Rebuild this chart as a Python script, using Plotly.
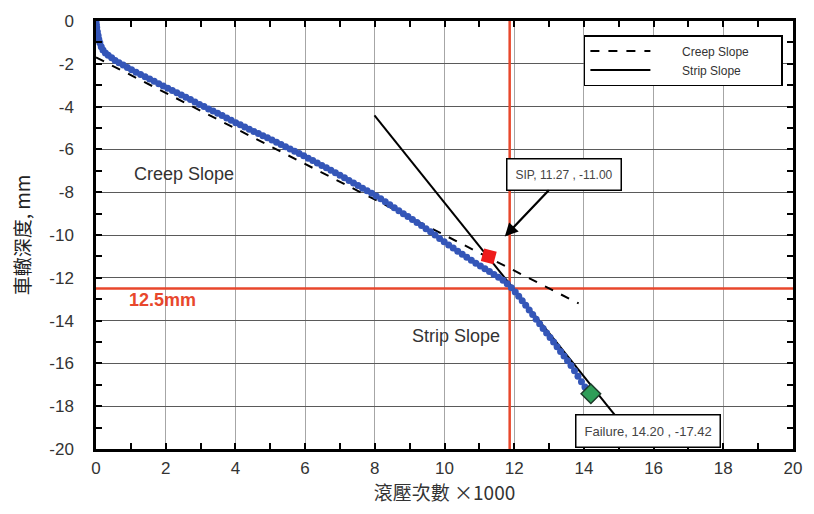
import plotly.graph_objects as go

# Measured rut depth vs. number of wheel passes (x1000)
passes = [0, 0.01, 0.02, 0.04, 0.06, 0.08, 0.11, 0.15, 0.2, 0.27, 0.35, 0.45, 0.55, 0.66, 0.78, 0.9,
          1.02, 1.15, 1.28, 1.41, 1.54, 1.67, 1.80, 1.93, 2.06, 2.19, 2.32, 2.45, 2.58, 2.71, 2.84, 2.97,
          3.10, 3.23, 3.36, 3.49, 3.62, 3.75, 3.88, 4.01, 4.14, 4.27, 4.40, 4.53, 4.66, 4.79, 4.92, 5.05,
          5.18, 5.31, 5.44, 5.57, 5.70, 5.83, 5.96, 6.09, 6.22, 6.35, 6.48, 6.61, 6.74, 6.87, 7.00, 7.13,
          7.26, 7.39, 7.52, 7.65, 7.78, 7.91, 8.04, 8.17, 8.30, 8.43, 8.56, 8.69, 8.82, 8.95, 9.08, 9.21,
          9.34, 9.47, 9.60, 9.73, 9.86, 9.99, 10.12, 10.25, 10.38, 10.51, 10.64, 10.77, 10.90, 11.03,
          11.16, 11.29, 11.42, 11.55, 11.68, 11.80, 11.92, 12.03, 12.13, 12.23, 12.33, 12.43, 12.53,
          12.63, 12.73, 12.83, 12.93, 13.03, 13.13, 13.23, 13.33, 13.43, 13.53, 13.63, 13.73, 13.83,
          13.93, 14.03, 14.13, 14.20]
rut_depth = [0, -0.15, -0.3, -0.5, -0.68, -0.85, -1.02, -1.2, -1.36, -1.5, -1.6, -1.72, -1.84, -1.95, -2.06, -2.17,
             -2.28, -2.39, -2.5, -2.6, -2.71, -2.82, -2.93, -3.04, -3.14, -3.25, -3.35, -3.46, -3.56, -3.67, -3.79, -3.9,
             -4.0, -4.11, -4.21, -4.31, -4.42, -4.53, -4.64, -4.75, -4.85, -4.95, -5.06, -5.16, -5.26, -5.36, -5.46, -5.56,
             -5.67, -5.77, -5.88, -5.98, -6.09, -6.19, -6.3, -6.41, -6.52, -6.63, -6.75, -6.86, -6.98, -7.09, -7.21, -7.33,
             -7.45, -7.57, -7.69, -7.81, -7.93, -8.05, -8.18, -8.31, -8.45, -8.59, -8.73, -8.87, -9.01, -9.14, -9.28, -9.42,
             -9.56, -9.71, -9.85, -10.0, -10.16, -10.32, -10.47, -10.61, -10.76, -10.9, -11.04, -11.18, -11.32, -11.45,
             -11.58, -11.71, -11.84, -11.98, -12.12, -12.28, -12.46, -12.66, -12.86, -13.07, -13.28, -13.5, -13.72,
             -13.94, -14.15, -14.37, -14.58, -14.79, -15.0, -15.22, -15.44, -15.66, -15.88, -16.1, -16.34, -16.6,
             -16.86, -17.1, -17.3, -17.42]

# Fitted slope lines (end points)
creep_x = [0, 13.85]
creep_y = [-1.7, -13.2]
strip_x = [7.99, 14.89]
strip_y = [-4.41, -18.42]

# Key points
sip_x, sip_y = 11.27, -11.00
fail_x, fail_y = 14.20, -17.42

# Reference lines
limit_depth = -12.5
limit_passes = 11.87

x_ticks = [0, 2, 4, 6, 8, 10, 12, 14, 16, 18, 20]
y_ticks = [0, -2, -4, -6, -8, -10, -12, -14, -16, -18, -20]

RED = "#e8472c"
FONT = "Liberation Sans, Arial, sans-serif"
CJK = "Noto Sans CJK TC, Noto Sans CJK SC, sans-serif"
PAD = "&nbsp;" * 8

fig = go.Figure()

# red limit lines
fig.add_trace(go.Scatter(x=[0, 20], y=[limit_depth, limit_depth], mode="lines",
                         line=dict(color=RED, width=2.5), showlegend=False, hoverinfo="skip"))
fig.add_trace(go.Scatter(x=[limit_passes, limit_passes], y=[0, -20], mode="lines",
                         line=dict(color=RED, width=2.5), showlegend=False, hoverinfo="skip"))

fig.add_trace(go.Scatter(x=creep_x, y=creep_y, mode="lines", name=PAD + "Creep Slope" + PAD,
                         line=dict(color="black", width=2, dash="dash")))
fig.add_trace(go.Scatter(x=strip_x, y=strip_y, mode="lines", name=PAD + "Strip Slope" + PAD,
                         line=dict(color="black", width=2)))

fig.add_trace(go.Scatter(x=passes, y=rut_depth, mode="markers", showlegend=False,
                         marker=dict(color="#3456b8", size=7, line=dict(width=0))))

fig.add_trace(go.Scatter(x=[sip_x], y=[sip_y], mode="markers", showlegend=False,
                         marker=dict(symbol="square", color="#ee1c1c", size=13, angle=15,
                                     line=dict(width=0))))
fig.add_trace(go.Scatter(x=[fail_x], y=[fail_y], mode="markers", showlegend=False,
                         marker=dict(symbol="diamond", color="#2f9e58", size=15,
                                     line=dict(color="#1d3a2a", width=1.5))))

# empty trace carrying the tick-only top and right axes
fig.add_trace(go.Scatter(x=[None], y=[None], xaxis="x2", yaxis="y2", showlegend=False,
                         hoverinfo="skip"))

annotations = [
    dict(x=1.03, y=-7.15, xref="x", yref="y", text="Creep Slope", showarrow=False,
         xanchor="left", yanchor="middle", font=dict(family=FONT, size=18, color="#333")),
    dict(x=9.0, y=-14.7, xref="x", yref="y", text="Strip Slope", showarrow=False,
         xanchor="left", yanchor="middle", font=dict(family=FONT, size=18, color="#333")),
    dict(x=0.9, y=-13.05, xref="x", yref="y", text="<b>12.5mm</b>", showarrow=False,
         xanchor="left", yanchor="middle", font=dict(family=FONT, size=18, color=RED)),
    dict(x=11.73, y=-10.07, xref="x", yref="y", text="SIP, 11.27 , -11.00",
         showarrow=True, arrowhead=2, arrowsize=1.2, arrowwidth=2.2, arrowcolor="black",
         ax=59, ay=-62, bgcolor="white", bordercolor="black", borderwidth=1.5, borderpad=8,
         font=dict(family=FONT, size=12, color="#444")),
    dict(x=15.83, y=-19.17, xref="x", yref="y", text="Failure, 14.20 , -17.42",
         showarrow=False, bgcolor="white", bordercolor="black", borderwidth=1.5, borderpad=8,
         font=dict(family=FONT, size=13, color="#444")),
]

minor_ticks = dict(ticks="inside", dtick=1, tick0=0, ticklen=6, tickwidth=2,
                   tickcolor="black", showgrid=False)
tick_only = dict(dtick=1, tick0=0, ticks="inside", ticklen=6, tickwidth=2, tickcolor="black",
                 showticklabels=False, showgrid=False, showline=False, zeroline=False)

fig.update_layout(
    width=814, height=514,
    margin=dict(l=96, r=17, t=18, b=65),
    paper_bgcolor="white", plot_bgcolor="white",
    annotations=annotations,
    xaxis=dict(range=[0, 20], tickmode="array", tickvals=x_ticks,
               ticktext=[str(v) for v in x_ticks],
               showline=True, linecolor="black", linewidth=2.5, mirror=True,
               ticks="inside", ticklen=6, tickwidth=2, tickcolor="black",
               zeroline=False, tickfont=dict(family=FONT, size=17, color="#333"),
               ticklabelstandoff=2,
               showgrid=True, gridcolor="#a6a6a6", gridwidth=1,
               minor=minor_ticks,
               title=dict(text="滾壓次數 ×1000",
                          font=dict(family=CJK, size=19, color="#333"), standoff=6)),
    yaxis=dict(range=[-20, 0], tickmode="array", tickvals=y_ticks,
               ticktext=[str(v) for v in y_ticks],
               showline=True, linecolor="black", linewidth=2.5, mirror=True,
               ticks="inside", ticklen=6, tickwidth=2, tickcolor="black",
               zeroline=False, tickfont=dict(family=FONT, size=17, color="#333"),
               ticklabelstandoff=16,
               showgrid=True, gridcolor="#5a5a5a", gridwidth=1,
               minor=minor_ticks,
               title=dict(text="車轍深度, mm",
                          font=dict(family=CJK, size=19, color="#222"), standoff=14)),
    xaxis2=dict(overlaying="x", side="top", range=[0, 20], **tick_only),
    yaxis2=dict(overlaying="y", side="right", range=[-20, 0], **tick_only),
    legend=dict(x=0.70, y=0.967, xanchor="left", yanchor="top",
                bgcolor="white", bordercolor="black", borderwidth=1.5,
                font=dict(family=FONT, size=12, color="#333"),
                tracegroupgap=2, itemwidth=60),
    showlegend=True,
)

fig.write_html("out.html")
